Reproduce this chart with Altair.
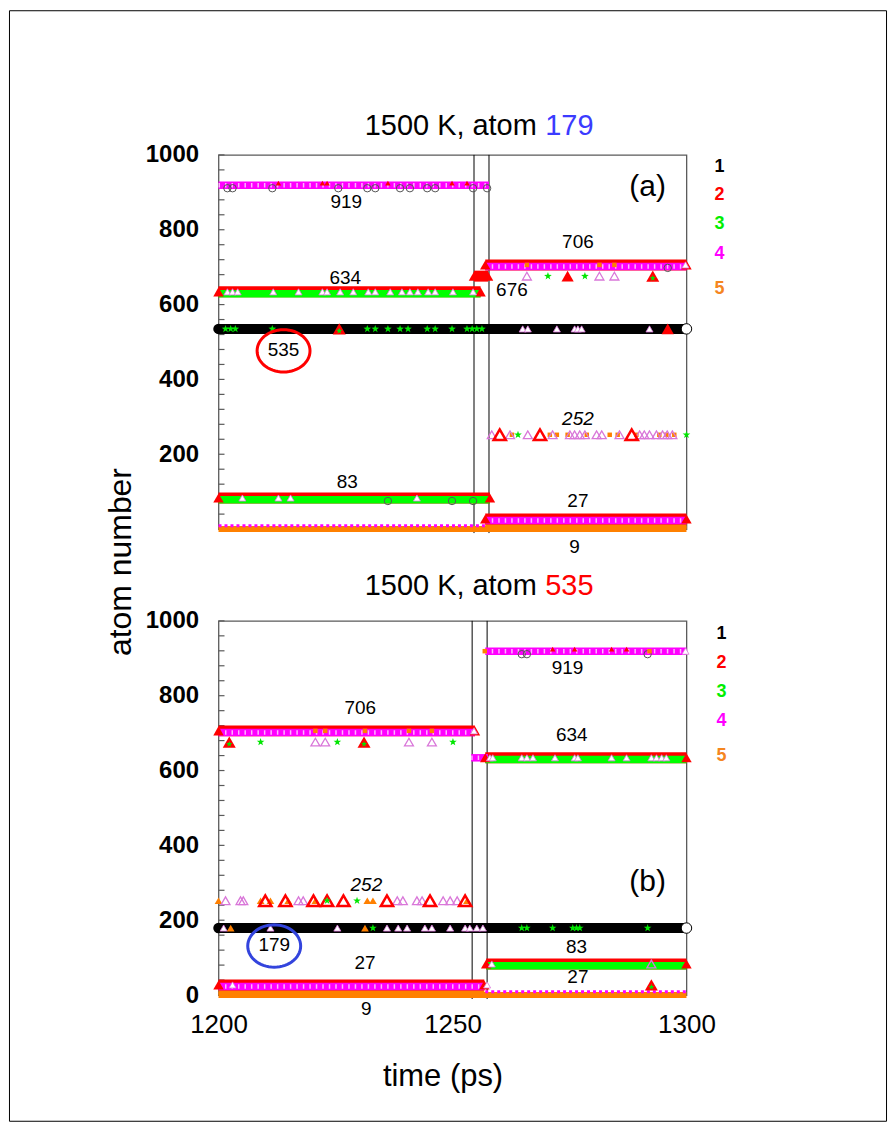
import math
import altair as alt
import pandas as pd

FONT = "Liberation Sans"
MAGENTA = "#ff00ff"
RED = "#ff0000"
GREEN = "#00ff00"
STAR_GREEN = "#00e600"
ORANGE = "#ff8000"
PINK = "#d977d9"
FRAME = "#5a5a5a"

# plot area of one panel (pixels)
W, H = 469, 375

T_RANGE = [1200, 1300]
N_RANGE = [0, 1000]
MINOR_TICKS = list(range(0, 1001, 40))
X_LABELS = [1200, 1250, 1300]

# ---------------- panel (a): neighbours of atom 179 ----------------
# atom number, start (ps), end (ps), band kind
A_BANDS = [
    (0, 1200.0, 1300.0, "orange"),
    (9, 1257.0, 1300.0, "orange"),
    (9, 1200.0, 1257.0, "pinkdash"),
    (919, 1200.0, 1257.8, "magenta"),
    (634, 1200.0, 1256.0, "green"),
    (83, 1200.0, 1258.0, "green"),
    (676, 1254.6, 1257.6, "red"),
    (706, 1257.0, 1300.0, "magenta_red"),
    (27, 1257.0, 1300.0, "magenta_red"),
    (535, 1200.0, 1300.0, "black"),
]
# marker kind, atom number, times (ps)
A_MARKS = [
    ("gcirc", 919, [1201.9, 1203.0, 1211.5, 1225.6, 1231.8, 1233.5, 1238.8, 1240.9,
                    1244.6, 1246.3, 1254.4, 1257.4]),
    ("rsm", 919, [1212.8, 1222.2, 1223.2, 1236.2, 1249.9, 1253.1]),
    ("wtri", 634, [1201.9, 1203.0, 1204.1, 1211.7, 1217.1, 1222.2, 1223.2, 1226.0,
                   1228.8, 1232.0, 1233.5, 1236.7, 1239.2, 1240.9, 1242.6, 1244.8,
                   1246.3, 1250.1, 1254.4]),
    ("wtri", 83, [1205.1, 1212.8, 1215.4, 1242.4]),
    ("gcirc", 83, [1236.2, 1249.9, 1254.4]),
    ("star", 535, [1201.5, 1202.6, 1203.6, 1211.5, 1231.8, 1233.5, 1236.2, 1238.8,
                   1240.5, 1244.6, 1246.3, 1249.9, 1253.1, 1254.2, 1255.2, 1256.3]),
    ("rtri_g", 535, [1225.8]),
    ("rtri", 535, [1296.0]),
    ("wtri", 535, [1265.0, 1266.1, 1272.3, 1276.1, 1276.8, 1277.6, 1292.1]),
    ("ptri", 676, [1265.9, 1281.4, 1284.6]),
    ("star", 676, [1270.4, 1278.3]),
    ("rtri", 676, [1274.6]),
    ("rtri_g", 676, [1292.8]),
    ("osq", 706, [1265.9, 1281.4, 1284.6]),
    ("gcirc", 706, [1296.0]),
    ("wtri", 706, [1299.8]),
    ("ptri", 252, [1258.4, 1262.3, 1266.1, 1271.4, 1275.1, 1276.1, 1277.2, 1278.3,
                   1280.8, 1281.9, 1285.7, 1290.0, 1291.0, 1292.1, 1293.6, 1294.9,
                   1295.9, 1297.0]),
    ("rotri", 252, [1260.1, 1268.7, 1288.3]),
    ("osq", 252, [1262.7, 1270.8, 1272.3, 1274.6, 1278.7, 1283.6, 1285.3, 1289.3,
                  1294.2, 1295.7, 1297.4]),
    ("star", 252, [1264.0, 1300.0]),
]
# atom number, label time (ps), vertical label offset (px)
A_LABELS = [
    (919, 1227.3, 17), (634, 1227.1, -14), (535, 1213.9, 21), (83, 1227.5, -16),
    (706, 1276.8, -23), (676, 1262.7, 14), (252, 1276.8, -16), (27, 1276.8, -18),
    (9, 1276.1, 21),
]
A_CUTS = [1254.6, 1257.8]

# ---------------- panel (b): neighbours of atom 535 ----------------
B_BANDS = [
    (0, 1200.0, 1300.0, "orange"),
    (9, 1200.0, 1256.8, "orange"),
    (9, 1257.0, 1300.0, "pinkdash"),
    (706, 1200.0, 1254.8, "magenta_red"),
    (27, 1200.0, 1256.8, "magenta_red"),
    (634, 1257.0, 1300.0, "green"),
    (83, 1257.2, 1300.0, "green"),
    (634, 1254.0, 1257.6, "magenta"),
    (919, 1257.0, 1300.0, "magenta"),
    (179, 1200.0, 1300.0, "black"),
]
B_MARKS = [
    ("osq", 706, [1220.7, 1222.8, 1231.3, 1240.7, 1245.6]),
    ("wtri", 706, [1254.6]),
    ("rtri_g", 676, [1202.3, 1231.1]),
    ("star", 676, [1209.0, 1225.4, 1250.1]),
    ("ptri", 676, [1220.7, 1222.8, 1240.7, 1245.6]),
    ("gcirc", 919, [1264.8, 1265.9, 1291.7]),
    ("rsm", 919, [1271.4, 1276.1, 1284.0, 1287.2]),
    ("osq", 919, [1256.9, 1292.1]),
    ("wtri", 919, [1299.8]),
    ("wtri", 634, [1258.0, 1258.6, 1264.8, 1265.9, 1267.2, 1271.9, 1276.1, 1276.8,
                   1284.0, 1287.2, 1292.5, 1293.6, 1294.7, 1295.7]),
    ("rotri", 252, [1210.0, 1214.3, 1220.3, 1223.2, 1226.7, 1236.0, 1245.2, 1252.7]),
    ("otri", 252, [1200.0, 1209.0, 1211.1, 1214.9, 1220.7, 1231.8, 1233.0, 1253.1]),
    ("ptri", 252, [1201.5, 1204.7, 1205.3, 1217.1, 1218.1, 1238.2, 1239.4, 1242.4,
                   1243.5, 1248.0, 1249.5, 1251.0]),
    ("star", 252, [1223.2, 1229.6]),
    ("wtri", 179, [1201.1, 1211.1, 1225.4, 1236.0, 1238.4, 1240.3, 1244.1, 1245.6,
                   1249.5, 1252.7, 1253.7, 1255.2, 1256.5]),
    ("otri", 179, [1202.6, 1231.3]),
    ("star", 179, [1233.0, 1264.8, 1265.9, 1271.4, 1275.7, 1276.5, 1277.2, 1291.7]),
    ("wtri", 83, [1258.4]),
    ("ptri", 83, [1292.5]),
    ("wtri", 27, [1203.0, 1257.4]),
    ("rtri_g", 27, [1292.5]),
]
B_LABELS = [
    (706, 1230.3, -23), (252, 1231.6, -16), (179, 1211.9, 17), (27, 1231.3, -22),
    (9, 1231.6, 17), (919, 1274.6, 17), (634, 1275.5, -23), (83, 1276.5, -17),
    (27, 1276.8, -8),
]
B_CUTS = [1254.2, 1257.4]

ITALIC_ATOMS = {252}
LEGEND_KEYS = ["1", "2", "3", "4", "5"]
LEGEND_COLORS = ["black", RED, "#00ee00", MAGENTA, "#f5861f"]

STAR = ("M0,-1 L0.235,-0.324 L0.951,-0.309 L0.38,0.124 L0.588,0.809 L0,0.4 "
        "L-0.588,0.809 L-0.38,0.124 L-0.951,-0.309 L-0.235,-0.324 Z")


def ellipse_path(rx, ry, n=60):
    pts = [(rx * math.cos(2 * math.pi * k / n), ry * math.sin(2 * math.pi * k / n))
           for k in range(n)]
    return "M" + " L".join(f"{x:.3f},{y:.3f}" for x, y in pts) + " Z"


ELLIPSE = ellipse_path(1.25, 1.0)

MARK_STYLE = {
    "gcirc": dict(shape="circle", filled=False, color="#555555", strokeWidth=1, size=55,
                  yOffset=3),
    "rsm": dict(shape="triangle-up", filled=True, color=RED, size=30, yOffset=-2),
    "osq": dict(shape="square", filled=True, color=ORANGE, size=20),
    "otri": dict(shape="triangle-up", filled=True, color=ORANGE, size=60),
    "wtri": dict(shape="triangle-up", filled=True, fill="white", stroke=PINK,
                 strokeWidth=0.8, size=50),
    "ptri": dict(shape="triangle-up", filled=False, color=PINK, strokeWidth=1.3, size=80),
    "rotri": dict(shape="triangle-up", filled=False, color=RED, strokeWidth=2.5, size=150),
    "rtri": dict(shape="triangle-up", filled=True, color=RED, size=150),
    "rtri_g": dict(shape="triangle-up", filled=True, color=RED, size=170),
    "gdot": dict(shape=STAR, filled=True, color=STAR_GREEN, size=40, yOffset=2),
    "star": dict(shape=STAR, filled=True, color=STAR_GREEN, size=65),
}
MARK_ORDER = ["gcirc", "rsm", "osq", "otri", "wtri", "ptri", "rotri", "rtri", "rtri_g", "star"]


def fixed_text(text, x, y, size, color="black", weight="normal", align="center",
               baseline="middle", angle=None, italic=False):
    kw = dict(text=text, font=FONT, fontSize=size, color=color, fontWeight=weight,
              align=align, baseline=baseline)
    if angle is not None:
        kw["angle"] = angle
    if italic:
        kw["fontStyle"] = "italic"
    return alt.Chart(alt.Data(values=[{"k": 0}])).mark_text(**kw).encode(
        x=alt.value(x), y=alt.value(y))


def panel(bands, marks, labels, cuts, circled, circle_color, title_atom, title_color,
          title_base, y_labels, legend_x, legend_y, letter, letter_y, show_x):
    xs = alt.Scale(domain=T_RANGE, nice=False, zero=False)
    ys = alt.Scale(domain=N_RANGE, nice=False, zero=False)
    if show_x:
        x_axis = alt.Axis(values=X_LABELS, format="d", ticks=False, tickSize=0,
                          domain=False, grid=False, labelFont=FONT, labelFontSize=26,
                          labelColor="black", labelPadding=17, labelFlush=False,
                          labelOverlap=False, title=None)
    else:
        x_axis = None
    y_axis = alt.Axis(values=y_labels, format="d", ticks=False, tickSize=0,
                      domain=False, grid=False, labelFont=FONT, labelFontSize=24,
                      labelFontWeight="bold", labelColor="black", labelPadding=20,
                      labelFlush=False, labelOverlap=False, title=None)

    def X(f):
        return alt.X(f"{f}:Q", scale=xs, axis=x_axis)

    def Y(f="v"):
        return alt.Y(f"{f}:Q", scale=ys, axis=y_axis)

    layers = []

    # inward minor ticks on the left frame
    layers.append(alt.Chart(pd.DataFrame({"v": MINOR_TICKS})).mark_rule(
        color=FRAME, strokeWidth=1.2).encode(x=alt.value(0), x2=alt.value(6), y=Y()))

    # vertical lines marking the exchange
    layers.append(alt.Chart(pd.DataFrame({"t": cuts})).mark_rule(
        color="black", strokeWidth=1).encode(x=X("t"), y=alt.value(0), y2=alt.value(H + 4)))

    bd = pd.DataFrame(bands, columns=["v", "t0", "t1", "kind"])

    def rule(kinds, color, width, yoff=0.0, dash=None, opacity=1.0):
        sub = bd[bd.kind.isin(kinds)]
        if sub.empty:
            return
        kw = dict(color=color, strokeWidth=width, opacity=opacity, strokeCap="butt")
        if yoff:
            kw["yOffset"] = yoff
        if dash:
            kw["strokeDash"] = dash
        layers.append(alt.Chart(sub).mark_rule(**kw).encode(x=X("t0"), x2="t1:Q", y=Y()))

    rule(["orange"], ORANGE, 6)
    rule(["pinkdash"], MAGENTA, 3, dash=[3, 3])
    rule(["green", "magenta_red", "red"], RED, 11)
    rule(["green"], GREEN, 7.5, yoff=1.8)
    rule(["magenta"], MAGENTA, 7.5)
    rule(["magenta_red"], MAGENTA, 7.5, yoff=1.6)
    rule(["magenta"], "white", 4.5, dash=[1.5, 5], opacity=0.7)
    rule(["magenta_red"], "white", 4.5, yoff=1.6, dash=[1.5, 5], opacity=0.7)
    rule(["black"], "black", 10)

    # band ends
    ends = bd[bd.kind.isin(["green", "magenta_red", "red"])]
    if not ends.empty:
        ends_long = pd.concat([ends.assign(t=ends.t0), ends.assign(t=ends.t1)])
        layers.append(alt.Chart(ends_long).mark_point(
            shape="triangle-up", filled=True, color=RED, size=110, opacity=1).encode(
            x=X("t"), y=Y()))
    blk = bd[bd.kind == "black"]
    if not blk.empty:
        layers.append(alt.Chart(blk.assign(t=blk.t0)).mark_point(
            shape="circle", filled=True, color="black", size=110, opacity=1).encode(
            x=X("t"), y=Y()))
        layers.append(alt.Chart(blk.assign(t=blk.t1)).mark_point(
            shape="circle", filled=True, fill="white", stroke="black", strokeWidth=1,
            size=110, opacity=1).encode(x=X("t"), y=Y()))

    # individual neighbour markers
    mk = pd.DataFrame([(k, v, t) for k, v, ts in marks for t in ts],
                      columns=["kind", "v", "t"])
    for kind in MARK_ORDER:
        sub = mk[mk.kind == kind]
        if sub.empty:
            continue
        layers.append(alt.Chart(sub).mark_point(opacity=1, **MARK_STYLE[kind]).encode(
            x=X("t"), y=Y()))
        if kind == "rtri_g":
            layers.append(alt.Chart(sub).mark_point(opacity=1, **MARK_STYLE["gdot"]).encode(
                x=X("t"), y=Y()))

    # atom-number labels
    for v, t, dy in labels:
        kw = dict(font=FONT, fontSize=19, color="black", align="center",
                  baseline="middle", dy=dy)
        if v in ITALIC_ATOMS:
            kw["fontStyle"] = "italic"
        layers.append(alt.Chart(pd.DataFrame({"v": [v], "t": [t], "s": [str(v)]}))
                      .mark_text(**kw).encode(x=X("t"), y=Y(), text="s:N"))
        if v == circled:
            layers.append(alt.Chart(pd.DataFrame({"v": [v], "t": [t]})).mark_point(
                shape=ELLIPSE, filled=False, color=circle_color, strokeWidth=3,
                size=1800, opacity=1, yOffset=dy + 1).encode(x=X("t"), y=Y()))

    # panel title with coloured atom number
    layers.append(fixed_text("1500 K, atom", 319, title_base, 29, align="right",
                             baseline="alphabetic"))
    layers.append(fixed_text(str(title_atom), 327.5, title_base, 29, color=title_color,
                             align="left", baseline="alphabetic"))

    # colour key
    for key, col, ly in zip(LEGEND_KEYS, LEGEND_COLORS, legend_y):
        layers.append(fixed_text(key, legend_x, ly, 18, color=col, weight="bold"))

    layers.append(fixed_text(letter, 430, letter_y, 30))

    return alt.layer(*layers).properties(width=W, height=H)


top = panel(A_BANDS, A_MARKS, A_LABELS, A_CUTS, 535, RED, 179, "#3b3bff", -20,
            [200, 400, 600, 800, 1000], 502, [12, 40, 69, 99, 134], "(a)", 32, False)
bottom = panel(B_BANDS, B_MARKS, B_LABELS, B_CUTS, 179, "#3344dd", 535, RED, -26,
               [0, 200, 400, 600, 800, 1000], 504, [13, 42, 71, 100, 135], "(b)", 262, True)

# page frame and shared axis titles
frame = alt.Chart(alt.Data(values=[{"k": 0}])).mark_rect(
    fill="white", fillOpacity=0, stroke="black", strokeWidth=1).encode(
    x=alt.value(-209.5), x2=alt.value(669.5), y=alt.value(-144.5), y2=alt.value(968.5))
y_title = fixed_text("atom number", -98, 408, 32, angle=270)
x_title = fixed_text("time (ps)", 225, 457, 31)

top = alt.layer(top, frame, y_title)
bottom = alt.layer(bottom, x_title)

chart = alt.vconcat(top, bottom, spacing=92, bounds="flush").properties(
    padding={"left": 8, "top": 8, "right": 6, "bottom": 4}
).configure_view(stroke=FRAME, strokeWidth=1.3)

chart.save("out.html", embed_options={"renderer": "svg", "actions": False})
